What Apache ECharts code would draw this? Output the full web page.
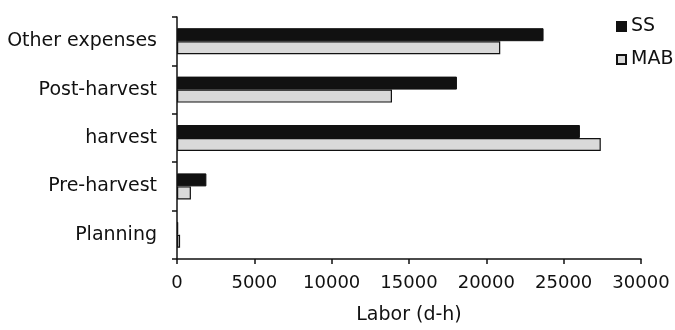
<!DOCTYPE html>
<html>
<head>
<meta charset="utf-8">
<script src="https://cdn.jsdelivr.net/npm/echarts@6/dist/echarts.min.js"></script>
<style>
html,body{margin:0;padding:0;background:#fff;}
#chart{width:675px;height:330px;}
</style>
</head>
<body>
<div id="chart"></div>
<script>
const categories = ['Planning', 'Pre-harvest', 'harvest', 'Post-harvest', 'Other expenses'];
const ssValues = [80, 1900, 26050, 18100, 23700];
const mabValues = [200, 900, 27400, 13900, 20900];
const xTicks = [0, 5000, 10000, 15000, 20000, 25000, 30000];

const FONT = 'DejaVu Sans';
const chart = echarts.init(document.getElementById('chart'), null, {renderer: 'canvas'});
chart.setOption({
  animation: false,
  backgroundColor: '#fff',
  grid: {left: 177, right: 34, top: 17, bottom: 67, containLabel: false},
  legend: {
    orient: 'vertical',
    left: 611,
    top: 12,
    data: ['SS', 'MAB'],
    icon: 'rect',
    itemWidth: 9,
    itemHeight: 9,
    itemGap: 14,
    textStyle: {fontFamily: FONT, fontSize: 19, color: '#111'}
  },
  xAxis: {
    type: 'value',
    min: xTicks[0],
    max: xTicks[xTicks.length - 1],
    interval: 5000,
    name: 'Labor (d-h)',
    nameLocation: 'middle',
    nameGap: 47,
    nameTextStyle: {fontFamily: FONT, fontSize: 19, color: '#111'},
    axisLine: {show: true, lineStyle: {color: '#111', width: 1.5}},
    axisTick: {show: true, length: 5, lineStyle: {color: '#111', width: 1.5}},
    splitLine: {show: false},
    axisLabel: {fontFamily: FONT, fontSize: 18, color: '#111', margin: 15,
      formatter: function (v) { return String(v); }}
  },
  yAxis: {
    type: 'category',
    data: categories,
    axisLine: {show: true, lineStyle: {color: '#111', width: 1.5}},
    axisTick: {show: true, length: 5, lineStyle: {color: '#111', width: 1.5}},
    splitLine: {show: false},
    axisLabel: {fontFamily: FONT, fontSize: 19, color: '#111', margin: 20}
  },
  series: [
    {
      name: 'SS',
      type: 'bar',
      data: ssValues,
      barWidth: 13,
      barGap: '0%',
      itemStyle: {color: '#111', borderColor: '#111', borderWidth: 1}
    },
    {
      name: 'MAB',
      type: 'bar',
      data: mabValues,
      barWidth: 13,
      barGap: '0%',
      itemStyle: {color: '#d9d9d9', borderColor: '#111', borderWidth: 1.2}
    }
  ]
});
</script>
</body>
</html>
